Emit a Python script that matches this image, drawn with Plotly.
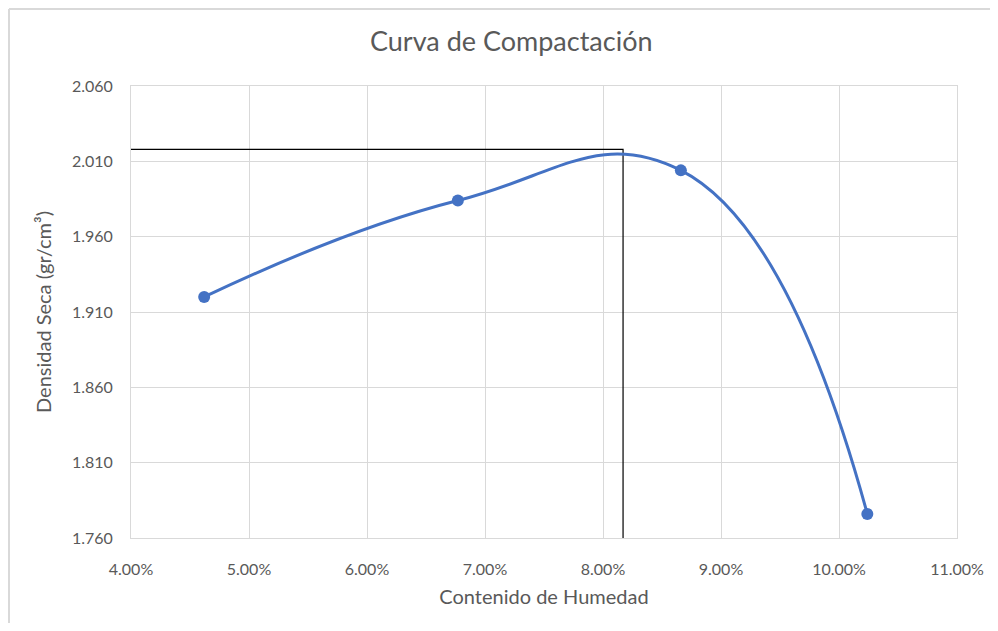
import plotly.graph_objects as go

# Data
humedad = [0.0462, 0.0677, 0.0866, 0.1024]
densidad = [1.920, 1.984, 2.004, 1.776]
humedad_optima = 0.0817
densidad_maxima = 2.018

x_ticks = [0.04, 0.05, 0.06, 0.07, 0.08, 0.09, 0.10, 0.11]
y_ticks = [1.760, 1.810, 1.860, 1.910, 1.960, 2.010, 2.060]

FONT = "Lato, 'Open Sans', sans-serif"
TXT = "#595959"
GRID = "#d9d9d9"
BLUE = "#4472C4"

fig = go.Figure()

# Reference lines to optimum
fig.add_trace(go.Scatter(
    x=[x_ticks[0], humedad_optima, humedad_optima],
    y=[densidad_maxima, densidad_maxima, y_ticks[0]],
    mode="lines", line=dict(color="black", width=1.2),
    hoverinfo="skip", showlegend=False))

fig.add_trace(go.Scatter(
    x=humedad, y=densidad, mode="lines+markers",
    line=dict(color=BLUE, width=3, shape="spline", smoothing=1.3),
    marker=dict(color=BLUE, size=12),
    showlegend=False))

fig.update_layout(
    width=982, height=615,
    margin=dict(l=123, r=33, t=78, b=85, autoexpand=False),
    paper_bgcolor="white", plot_bgcolor="white",
    font=dict(family=FONT, color=TXT, size=16),
    title=dict(text="Curva de Compactación", x=0.5125, xanchor="center",
               y=(615 - 34) / 615, yanchor="middle",
               font=dict(size=27, color=TXT, family=FONT)),
    xaxis=dict(range=[x_ticks[0], x_ticks[-1]], tickvals=x_ticks, automargin=False,
               tickformat=".2%", showgrid=True, gridcolor=GRID, gridwidth=1,
               showline=True, mirror=True, linecolor=GRID, linewidth=1,
               zeroline=False, ticks="", ticklen=0, ticklabelstandoff=17,
               tickfont=dict(size=16, color=TXT),
               title=dict(text="Contenido de Humedad", font=dict(size=20, color=TXT), standoff=12)),
    yaxis=dict(range=[y_ticks[0], y_ticks[-1]], tickvals=y_ticks, automargin=False,
               tickformat=".3f", showgrid=True, gridcolor=GRID, gridwidth=1,
               showline=True, mirror=True, linecolor=GRID, linewidth=1,
               zeroline=False, ticks="", ticklen=0, ticklabelstandoff=14,
               tickfont=dict(size=16, color=TXT),
               title=dict(text="Densidad Seca (gr/cm³)", font=dict(size=20, color=TXT), standoff=14)),
    shapes=[
        dict(type="line", xref="paper", yref="paper", x0=-0.1477, x1=1.1, y0=1.1704, y1=1.1704,
             line=dict(color=GRID, width=2)),
        dict(type="line", xref="paper", yref="paper", x0=-0.1477, x1=-0.1477, y0=1.1704, y1=-0.25,
             line=dict(color=GRID, width=2)),
    ],
)

fig.write_html("out.html")
